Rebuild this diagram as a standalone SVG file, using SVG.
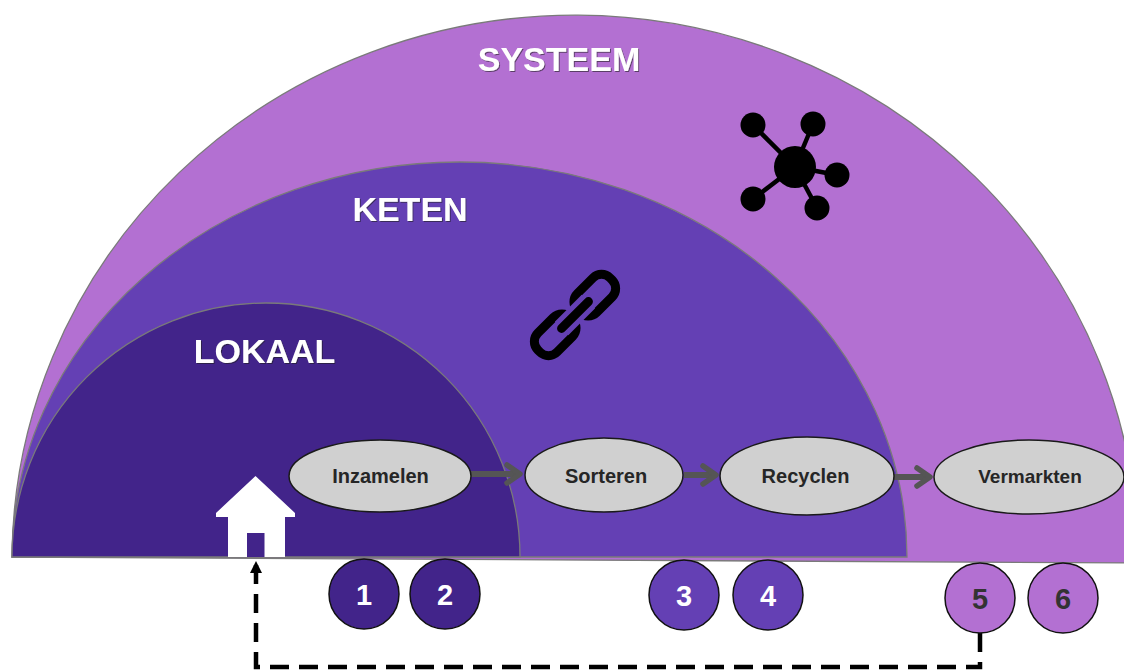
<svg xmlns="http://www.w3.org/2000/svg" width="1124" height="670" viewBox="0 0 1124 670">
<defs>
<style>
.band{stroke:#7a7a7a;stroke-width:1.3}
.title{font-family:"Liberation Sans",Arial,sans-serif;font-weight:bold;font-size:34px;fill:#fff;text-anchor:middle;filter:url(#sh)}
.step ellipse{fill:#d0d0d0;stroke:#1a1a1a;stroke-width:1.5}
.step text{font-family:"Liberation Sans",Arial,sans-serif;font-weight:bold;font-size:20px;fill:#262626;text-anchor:middle}
.num circle{stroke:#111;stroke-width:1.5}
.num text{font-family:"Liberation Sans",Arial,sans-serif;font-weight:bold;font-size:29px;text-anchor:middle}
.flow{stroke:#555;stroke-width:6;fill:none;marker-end:url(#chev)}
.loop{stroke:#000;stroke-width:4.5;fill:none;stroke-dasharray:19 10;marker-end:url(#tri)}
</style>
<filter id="sh" x="-10%" y="-20%" width="130%" height="150%">
<feDropShadow dx="1" dy="1" stdDeviation="0.7" flood-color="#222" flood-opacity="0.6"/>
</filter>
<marker id="chev" markerUnits="userSpaceOnUse" viewBox="-4 -4 24 26" markerWidth="24" markerHeight="26" refX="13" refY="9" orient="auto">
<path d="M0,0 L13,9 L0,18" fill="none" stroke="#555" stroke-width="5.5" stroke-linecap="round" stroke-linejoin="round"/>
</marker>
<marker id="tri" markerUnits="userSpaceOnUse" viewBox="0 0 12 12" markerWidth="12" markerHeight="12" refX="12" refY="6" orient="auto">
<path d="M0,0 L12,6 L0,12 Z" fill="#000" stroke="none"/>
</marker>
</defs>

<g id="systeem">
<path class="band" d="M12,557 A563,545 0 0 1 1138,563 Z" fill="#B370D2"/>
<text class="title" x="559" y="71">SYSTEEM</text>
</g>
<g id="keten">
<path class="band" d="M12,557 A447.5,395 0 0 1 907,557 Z" fill="#6440B4"/>
<text class="title" x="410" y="221">KETEN</text>
</g>
<g id="lokaal">
<path class="band" d="M12,557 A254,254 0 0 1 520,557 Z" fill="#42248A"/>
<text class="title" x="264.5" y="363">LOKAAL</text>
</g>

<g id="network-icon">
<g stroke="#000" stroke-width="4.5">
<line x1="795" y1="167" x2="753" y2="125"/>
<line x1="795" y1="167" x2="813" y2="124"/>
<line x1="795" y1="167" x2="837" y2="175"/>
<line x1="795" y1="167" x2="817" y2="208"/>
<line x1="795" y1="167" x2="753" y2="199"/>
</g>
<circle cx="795" cy="167" r="21"/>
<circle cx="753" cy="125" r="12.5"/>
<circle cx="813" cy="124" r="12.5"/>
<circle cx="837" cy="175" r="12.5"/>
<circle cx="817" cy="208" r="12.5"/>
<circle cx="753" cy="199" r="12.5"/>
</g>

<g id="chain-icon" transform="translate(575,315) rotate(-45)">
<rect x="5" y="-13.5" width="46" height="27" rx="12" fill="none" stroke="#000" stroke-width="9"/>
<rect x="-51" y="-13.5" width="46" height="27" rx="12" fill="none" stroke="#000" stroke-width="9"/>
<line x1="-19" y1="0" x2="19" y2="0" stroke="#6440B4" stroke-width="19"/>
<line x1="-19" y1="0" x2="19" y2="0" stroke="#000" stroke-width="9" stroke-linecap="round"/>
</g>

<g id="house">
<polygon points="216,513 255.5,476 295,513 295,517 285,517 285,557 228,557 228,517 216,517" fill="#fff"/>
<rect x="247" y="533" width="17.5" height="24" fill="#42248A"/>
</g>

<g id="connectors">
<path class="flow" d="M471,474 L520,474"/>
<path class="flow" d="M684,475 L716,475"/>
<path class="flow" d="M894,477 L930,477"/>
<path class="loop" d="M980,633 V667 H256 V561"/>
</g>

<g id="inzamelen" class="step">
<ellipse cx="380" cy="476" rx="91" ry="36"/>
<text x="380.5" y="483">Inzamelen</text>
</g>
<g id="sorteren" class="step">
<ellipse cx="604" cy="475" rx="79" ry="37"/>
<text x="606" y="483">Sorteren</text>
</g>
<g id="recyclen" class="step">
<ellipse cx="807" cy="476" rx="87" ry="39"/>
<text x="805.5" y="483">Recyclen</text>
</g>
<g id="vermarkten" class="step">
<ellipse cx="1029" cy="477" rx="95" ry="37"/>
<text x="1030" y="483" style="font-size:19px">Vermarkten</text>
</g>

<g id="n1" class="num"><circle cx="364" cy="594" r="35" fill="#42248A"/><text x="364" y="605" fill="#fff">1</text></g>
<g id="n2" class="num"><circle cx="445" cy="594" r="35" fill="#42248A"/><text x="445" y="605" fill="#fff">2</text></g>
<g id="n3" class="num"><circle cx="684" cy="595" r="35" fill="#6440B4"/><text x="684" y="606" fill="#fff">3</text></g>
<g id="n4" class="num"><circle cx="768" cy="595" r="35" fill="#6440B4"/><text x="768" y="606" fill="#fff">4</text></g>
<g id="n5" class="num"><circle cx="980" cy="598" r="35" fill="#B370D2"/><text x="980" y="609" fill="#333">5</text></g>
<g id="n6" class="num"><circle cx="1063" cy="598" r="35" fill="#B370D2"/><text x="1063" y="609" fill="#333">6</text></g>
</svg>
